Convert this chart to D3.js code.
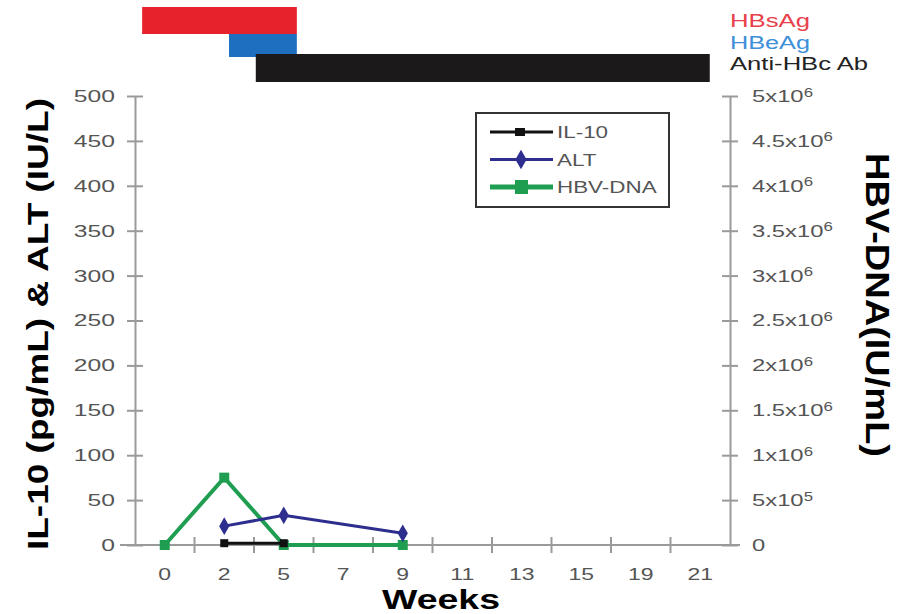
<!DOCTYPE html>
<meta charset="utf-8">
<style>
body{ margin:0; background:#fff; }
text{ font-family:"Liberation Sans", Arial, sans-serif; }
.tick text{ fill:#555; font-size:17px; }
.axis path, .axis line{ stroke:#9a9a9a; stroke-width:2px; }
.title{ font-weight:bold; fill:#000; }
</style>
<body>
<script src="https://d3js.org/d3.v7.min.js"></script>
<script>

// weeks on the x axis (categorical, evenly spaced)
var weeks = ["0","2","5","7","9","11","13","15","19","21"];
var leftTicks = [0,50,100,150,200,250,300,350,400,450,500];
var rightTicks = [0,5e5,1e6,1.5e6,2e6,2.5e6,3e6,3.5e6,4e6,4.5e6,5e6];

var il10 = [["2",2],["5",2]];
var alt = [["2",21],["5",33],["9",13]];
var hbv = [["0",0],["2",750000],["5",0],["9",0]];

// serology bars, start/end in category-band units
var bars = [
  {name:"HBsAg", start:0.12, end:2.72, color:"#e8222c", text:"#e8404a", len:80},
  {name:"HBeAg", start:1.58, end:2.72, color:"#1e6fc0", text:"#3d8fd8", len:80},
  {name:"Anti-HBc Ab", start:2.03, end:9.66, color:"#1b1919", text:"#222", len:138}
];

var svg = d3.select("body").append("svg").attr("width",907).attr("height",614);

var x = d3.scaleBand().domain(weeks).range([135,730]).padding(0);
var xu = d3.scaleLinear().domain([0,weeks.length]).range([135,730]);
var yL = d3.scaleLinear().domain([0,500]).range([545,96]);
var yR = d3.scaleLinear().domain([0,5e6]).range([545,96]);

// the picture's text is wide, so stretch it sideways
function stretch(sel,k){
  sel.each(function(){
    var L = this.getComputedTextLength();
    d3.select(this).attr("textLength",L*k).attr("lengthAdjust","spacingAndGlyphs");
  });
}

// top bars
var barY = [7,34,54], barH = [27,23,28];
svg.selectAll(".sero").data(bars).enter().append("rect")
  .attr("x",d=>xu(d.start)).attr("width",d=>xu(d.end)-xu(d.start))
  .attr("y",(d,i)=>barY[i]).attr("height",(d,i)=>barH[i])
  .attr("fill",d=>d.color);
svg.selectAll(".seroLab").data(bars).enter().append("text")
  .attr("x",730).attr("y",(d,i)=>27+i*21.5)
  .attr("font-size",18).attr("fill",d=>d.text).text(d=>d.name)
  .attr("textLength",d=>d.len).attr("lengthAdjust","spacingAndGlyphs");

// axes
svg.append("line").attr("x1",120).attr("x2",740).attr("y1",545).attr("y2",545)
  .attr("stroke","#9a9a9a").attr("stroke-width",2);

var xa = svg.append("g").attr("class","axis").attr("transform","translate(0,545)")
  .call(d3.axisBottom(x).tickSize(0));
xa.select(".domain").remove();
xa.selectAll(".tick text").attr("y",35).attr("dy",0);
stretch(xa.selectAll(".tick text"),1.35);
// tick marks at band boundaries
xa.selectAll(".sep").data(d3.range(1,weeks.length)).enter().append("line")
  .attr("x1",d=>xu(d)).attr("x2",d=>xu(d)).attr("y1",-8).attr("y2",8)
  .attr("stroke","#9a9a9a").attr("stroke-width",2);

var la = svg.append("g").attr("class","axis").attr("transform","translate(135,0)")
  .call(d3.axisLeft(yL).tickValues(leftTicks).tickSize(8).tickPadding(12).tickSizeOuter(0));
la.selectAll(".tick line").attr("x2",8).attr("x1",-8);
stretch(la.selectAll(".tick text"),1.45);

var ra = svg.append("g").attr("class","axis").attr("transform","translate(730,0)")
  .call(d3.axisRight(yR).tickValues(rightTicks).tickSize(8).tickPadding(14).tickSizeOuter(0));
ra.selectAll(".tick line").attr("x2",8).attr("x1",-8);
ra.selectAll(".tick text").each(function(d){
  var t = d3.select(this).text("");
  if(d===0){ t.text("0"); return; }
  var e = Math.floor(Math.log10(d)+1e-9), m = d/Math.pow(10,e);
  t.append("tspan").text(m+"x10");
  t.append("tspan").attr("dy","-0.45em").attr("font-size","12px").text(e);
});
stretch(ra.selectAll(".tick text"),1.4);

// titles
svg.append("text").attr("class","title").attr("font-size",30)
  .attr("transform","translate(48,324) rotate(-90)").attr("text-anchor","middle")
  .attr("textLength",452).attr("lengthAdjust","spacingAndGlyphs")
  .text("IL-10 (pg/mL) & ALT (IU/L)");
svg.append("text").attr("class","title").attr("font-size",33)
  .attr("transform","translate(866,305) rotate(90)").attr("text-anchor","middle")
  .attr("textLength",304).attr("lengthAdjust","spacingAndGlyphs")
  .text("HBV-DNA(IU/mL)");
svg.append("text").attr("class","title").attr("font-size",27)
  .attr("x",441).attr("y",608.5).attr("text-anchor","middle")
  .attr("textLength",118).attr("lengthAdjust","spacingAndGlyphs").text("Weeks");

// series
var cx = d=>x(d[0])+x.bandwidth()/2;
svg.append("path").datum(hbv).attr("fill","none").attr("stroke","#1f9e52").attr("stroke-width",4)
  .attr("d",d3.line().x(cx).y(d=>yR(d[1])));
svg.selectAll(".hbvPt").data(hbv).enter().append("rect")
  .attr("x",d=>cx(d)-5).attr("y",d=>yR(d[1])-5).attr("width",10).attr("height",10).attr("fill","#1f9e52");

svg.append("path").datum(alt).attr("fill","none").attr("stroke","#2e2e8f").attr("stroke-width",3)
  .attr("d",d3.line().x(cx).y(d=>yL(d[1])));
svg.selectAll(".altPt").data(alt).enter().append("path")
  .attr("transform",d=>"translate("+cx(d)+","+yL(d[1])+")")
  .attr("d",d3.symbol(d3.symbolDiamond,90)).attr("fill","#2e2e8f");

svg.append("path").datum(il10).attr("fill","none").attr("stroke","#111").attr("stroke-width",3)
  .attr("d",d3.line().x(cx).y(d=>yL(d[1])));
svg.selectAll(".ilPt").data(il10).enter().append("rect")
  .attr("x",d=>cx(d)-4).attr("y",d=>yL(d[1])-4).attr("width",8).attr("height",8).attr("fill","#111");

// legend
var lg = svg.append("g");
lg.append("rect").attr("x",476).attr("y",113).attr("width",193).attr("height",94)
  .attr("fill","#fff").attr("stroke","#333").attr("stroke-width",2);
var leg = [
  {name:"IL-10", color:"#111", sym:"sq"},
  {name:"ALT", color:"#2e2e8f", sym:"di"},
  {name:"HBV-DNA", color:"#1f9e52", sym:"sq"}
];
leg.forEach(function(d,i){
  var yy = 132+i*27.5;
  lg.append("line").attr("x1",490).attr("x2",553).attr("y1",yy).attr("y2",yy)
    .attr("stroke",d.color).attr("stroke-width",i==2?5:3);
  if(d.sym=="di") lg.append("path").attr("transform","translate(521,"+yy+")")
    .attr("d",d3.symbol(d3.symbolDiamond,110)).attr("fill",d.color);
  else lg.append("rect").attr("x",515).attr("y",yy-(i==2?7:4)).attr("width",i==2?13:10)
    .attr("height",i==2?14:8).attr("fill",d.color);
  var t = lg.append("text").attr("x",557).attr("y",yy+6).attr("font-size",16).attr("fill","#555").text(d.name);
  stretch(t,1.4);
});

</script>
</body>
